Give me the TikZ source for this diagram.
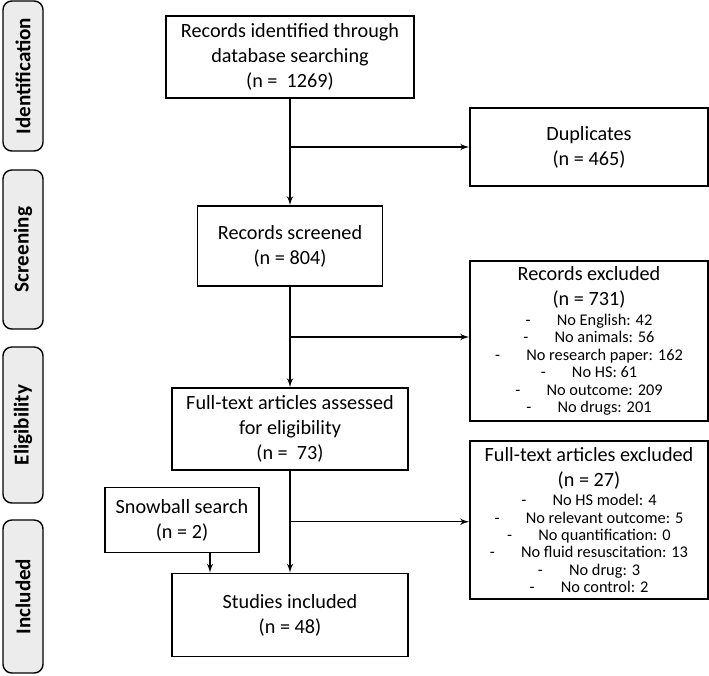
\documentclass[tikz,border=0pt]{standalone}
\usepackage{fontspec}
\setmainfont{Carlito}
\usetikzlibrary{shapes,arrows}
\usetikzlibrary{calc}
\tikzstyle{line} = [draw, line width=0.8pt, -latex']
\tikzstyle{box} = [draw, line width=0.8pt, align=center, inner sep=2pt, font=\fontsize{11.5}{14.2}\selectfont]
\tikzstyle{phase} = [draw, line width=0.8pt, rounded corners=5pt, fill=gray!15, rotate=90, minimum height=0.8cm, font=\fontsize{12}{14}\selectfont\bfseries]
\newcommand{\exitem}[1]{{\fontsize{9.3}{10}\selectfont -\hspace{1.6em}#1}}

\begin{document}
\begin{tikzpicture}
 \useasboundingbox (0,0) rectangle (14.18,-13.5);
 % phases
 \node [phase, minimum width=3.0cm] (Lid) at (0.46,-1.52) {Identification};
 \node [phase, minimum width=3.18cm] (Lsc) at (0.46,-4.99) {Screening};
 \node [phase, minimum width=3.12cm] (Lel) at (0.46,-8.5) {Eligibility};
 \node [phase, minimum width=3.06cm] (Lin) at (0.46,-11.93) {Included};
 % main column
 \node [box, minimum width=4.96cm, minimum height=1.64cm] (REC) at (5.8,-1.14) {Records identified through\\database searching\\(n =~ 1269)};
 \node [box, below of=REC, node distance=3.78cm, minimum width=3.7cm, minimum height=1.6cm] (SCR) {Records screened\\(n = 804)};
 \node [box, below of=SCR, node distance=3.66cm, minimum width=4.72cm, minimum height=1.64cm] (FTA) {Full-text articles assessed\\for eligibility\\(n =~ 73)};
 \node [box, below of=FTA, node distance=3.72cm, minimum width=4.72cm, minimum height=1.66cm] (INC) {Studies included\\(n = 48)};
 % side boxes
 \node [box, minimum width=4.76cm, minimum height=1.56cm] (DUP) at (11.78,-2.94) {Duplicates\\(n = 465)};
 \node [box, minimum width=4.76cm, minimum height=3.2cm] (EXR) at (11.78,-6.82) {Records excluded\\(n = 731)\\[-3pt]
  \exitem{No English: 42}\\[-4.3pt] \exitem{No animals: 56}\\[-4.3pt] \exitem{No research paper: 162}\\[-4.3pt]
  \exitem{No HS: 61}\\[-4.3pt] \exitem{No outcome: 209}\\[-4.3pt] \exitem{No drugs: 201}};
 \node [box, minimum width=4.76cm, minimum height=3.16cm] (EXF) at (11.78,-10.4) {Full-text articles excluded\\(n = 27)\\[-3pt]
  \exitem{No HS model: 4}\\[-4.3pt] \exitem{No relevant outcome: 5}\\[-4.3pt] \exitem{No quantification: 0}\\[-4.3pt]
  \exitem{No fluid resuscitation: 13}\\[-4.3pt] \exitem{No drug: 3}\\[-4.3pt] \exitem{No control: 2}};
 \node [box, minimum width=3.08cm, minimum height=1.3cm] (SNB) at (3.64,-10.4) {Snowball search\\(n = 2)};
 % flow
 \path [line] (REC) -> (SCR);
 \path [line] (REC.south |- DUP.west) -> (DUP.west);
 \path [line] (SCR) -> (FTA);
 \coordinate (m1) at ($(SCR.south)!0.5!(FTA.north)$);
 \path [line] (m1) -> (m1 -| EXR.west);
 \path [line] (FTA) -> (INC);
 \coordinate (m2) at ($(FTA.south)!0.5!(INC.north)$);
 \path [line] (m2) -> (m2 -| EXF.west);
 \coordinate (s1) at ($(SNB.south)+(0.56,0)$);
 \path [line] (s1) -> (s1 |- INC.north);
\end{tikzpicture}
\end{document}
